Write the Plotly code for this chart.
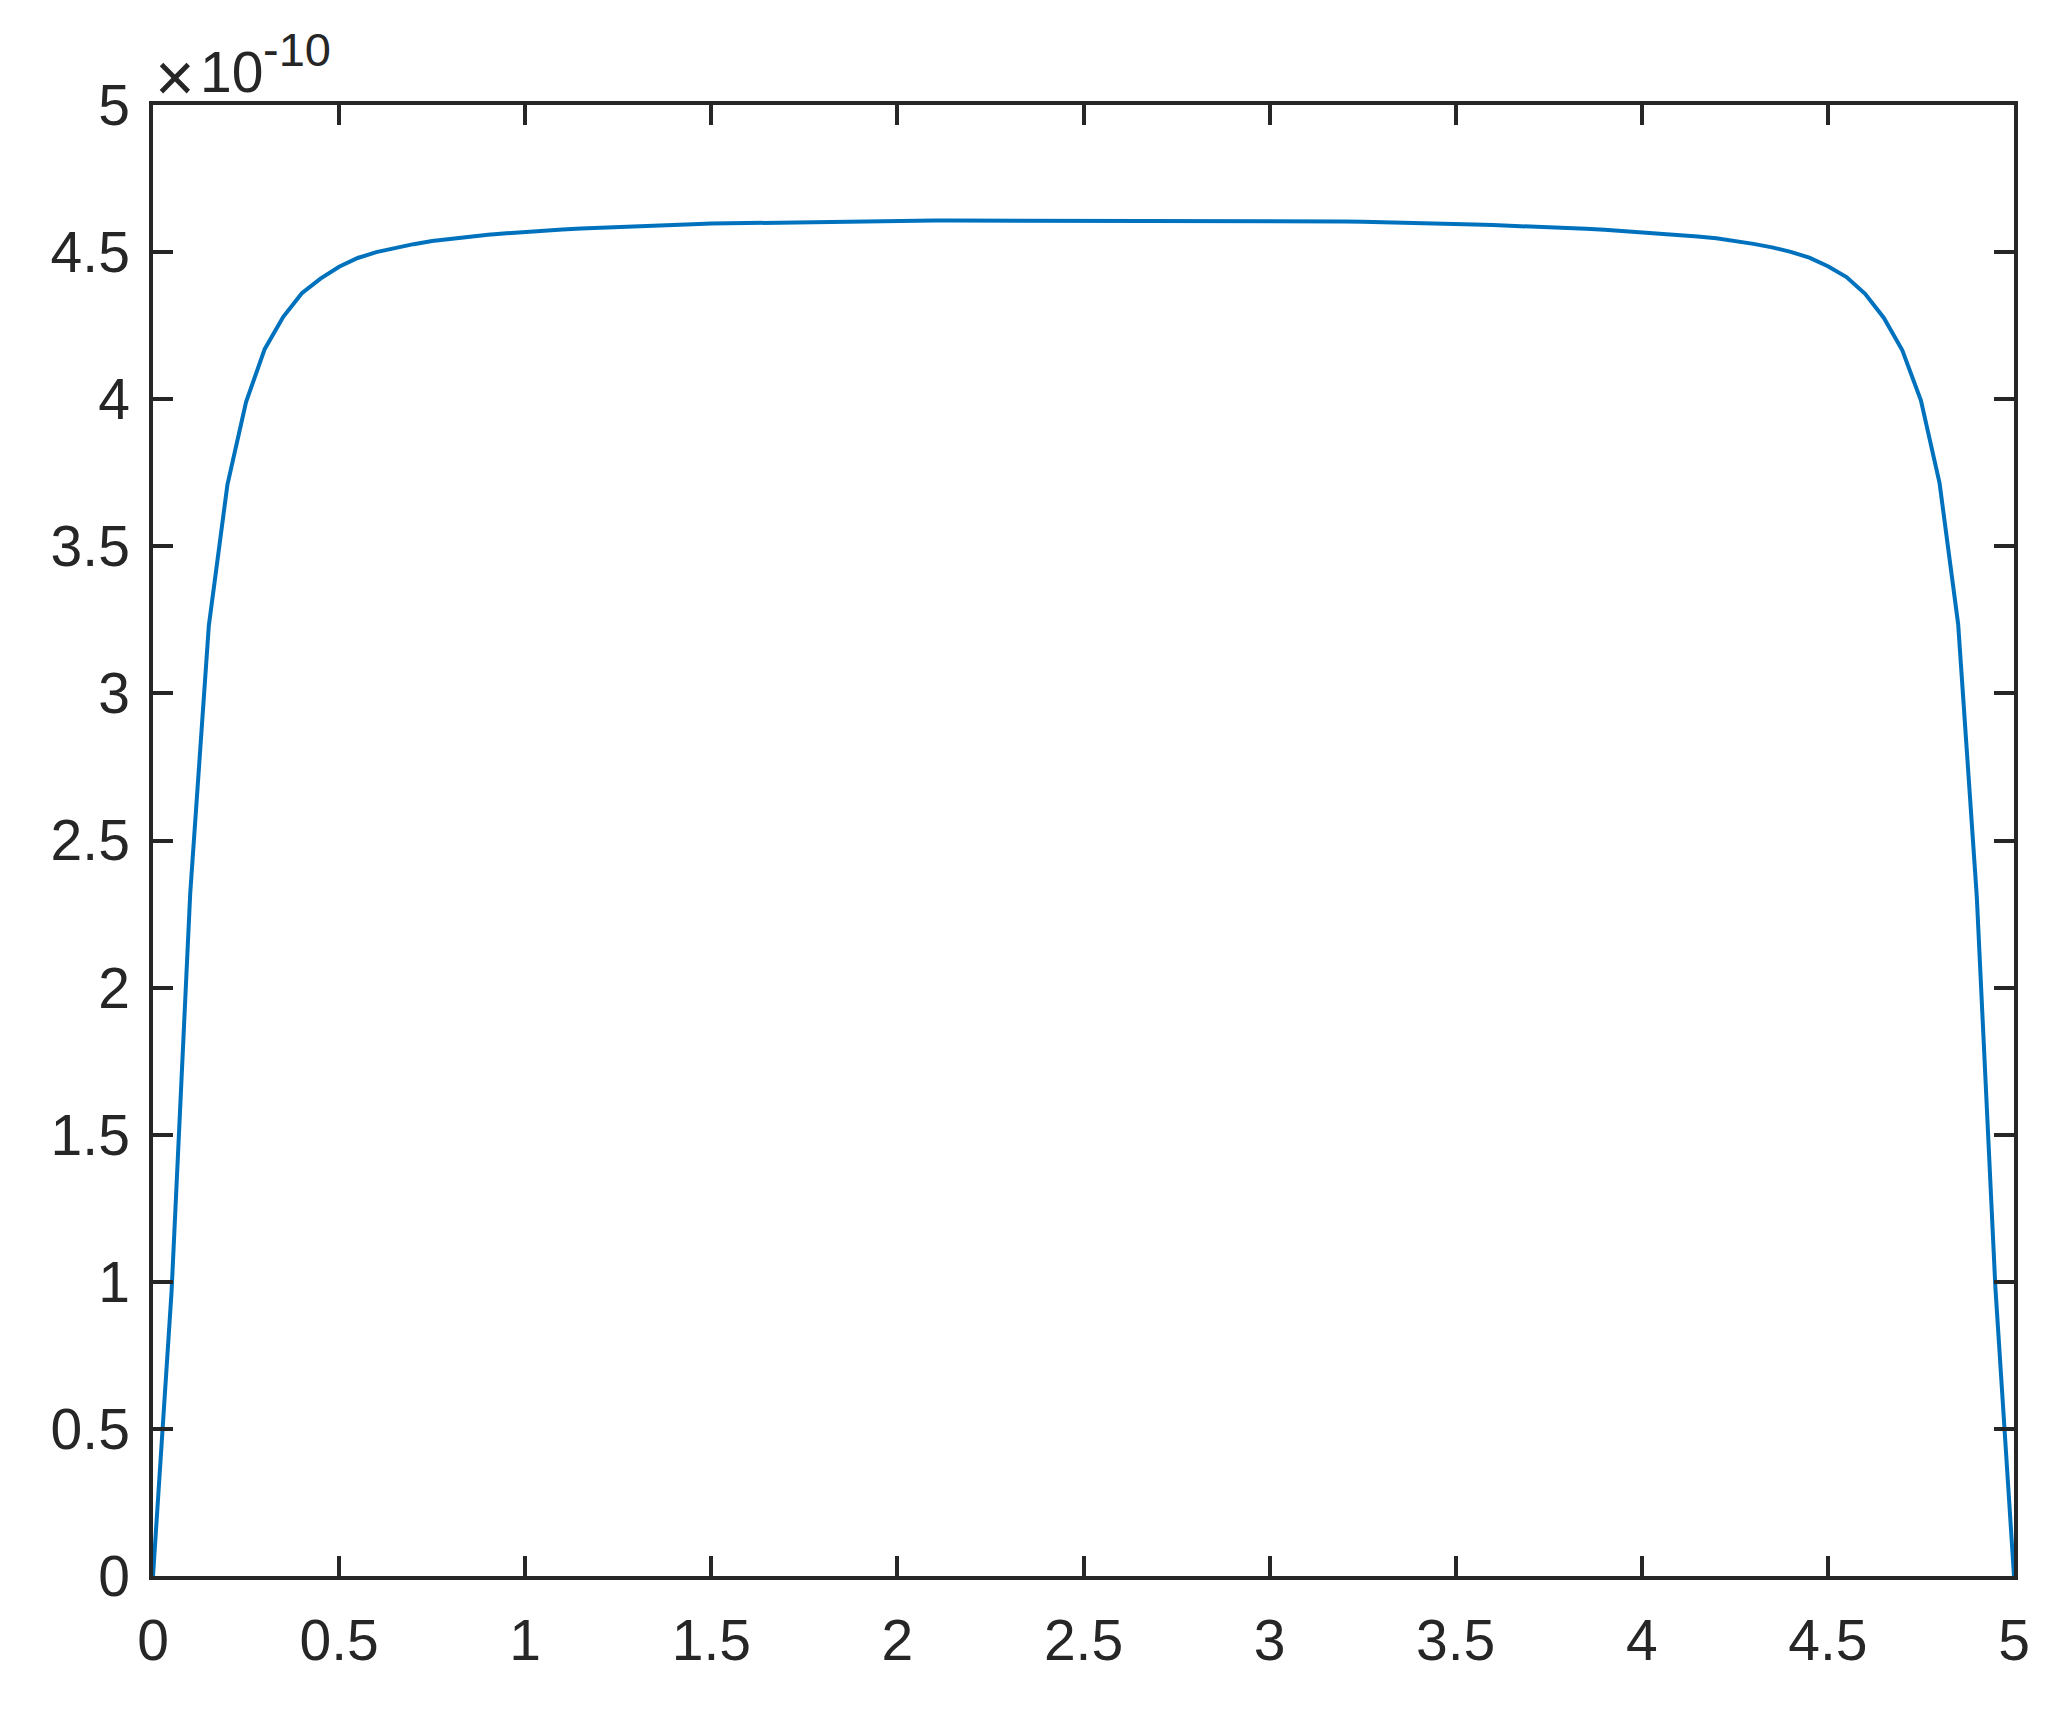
import plotly.graph_objects as go

# x grid (0 .. 5, step 0.05) and curve values in units of 1e-10
x_vals = [round(i * 0.05, 2) for i in range(101)]
y_vals = [
    0.0, 0.97, 2.32, 3.23, 3.71, 3.99, 4.17, 4.28, 4.36, 4.41,
    4.45, 4.48, 4.50, 4.515, 4.527, 4.538, 4.546, 4.553, 4.559, 4.564,
    4.569, 4.573, 4.577, 4.580, 4.583, 4.586, 4.589, 4.591, 4.593, 4.595,
    4.597, 4.598, 4.600, 4.601, 4.602, 4.603, 4.604, 4.605, 4.606, 4.606,
    4.607, 4.607, 4.607, 4.607, 4.607, 4.607, 4.607, 4.607, 4.607, 4.607,
    4.607, 4.607, 4.607, 4.607, 4.607, 4.607, 4.607, 4.607, 4.607, 4.607,
    4.607, 4.606, 4.606, 4.605, 4.604, 4.603, 4.602, 4.601, 4.600, 4.598,
    4.596, 4.594, 4.592, 4.590, 4.588, 4.585, 4.582, 4.579, 4.576, 4.572,
    4.568, 4.564, 4.559, 4.553, 4.547, 4.538, 4.528, 4.516, 4.501, 4.481,
    4.452, 4.415, 4.358, 4.277, 4.166, 3.995, 3.715, 3.235, 2.31, 0.98,
    0.0,
]

x_ticks = [0, 0.5, 1, 1.5, 2, 2.5, 3, 3.5, 4, 4.5, 5]
x_ticktext = ["0", "0.5", "1", "1.5", "2", "2.5", "3", "3.5", "4", "4.5", "5"]
y_ticks = [0, 0.5, 1, 1.5, 2, 2.5, 3, 3.5, 4, 4.5, 5]
y_ticktext = ["0", "0.5", "1", "1.5", "2", "2.5", "3", "3.5", "4", "4.5", "5"]

# page body has an 8px margin, so the figure is shifted by that
OFF = 8
W, H = 2068 - 2 * OFF, 1721 - 2 * OFF
L, T = 153 - OFF, 105 - OFF
R = (OFF + W) - 2014
B = (OFF + H) - 1576
pw, ph = W - L - R, H - T - B

ink = "#262626"
fam = "Liberation Sans, Arial, sans-serif"
fnt = dict(family=fam, size=57, color=ink)

fig = go.Figure()
fig.add_trace(go.Scatter(
    x=x_vals, y=y_vals, mode="lines",
    line=dict(color="#0072BD", width=4),
    showlegend=False, hoverinfo="skip",
))

axis_common = dict(
    showline=True, linecolor=ink, linewidth=3.5,
    mirror="ticks", ticks="inside", ticklen=20, tickwidth=3.5, tickcolor=ink,
    showgrid=False, zeroline=False, tickfont=fnt,
)

fig.update_layout(
    width=W, height=H,
    margin=dict(l=L, r=R, t=T, b=B),
    paper_bgcolor="white", plot_bgcolor="white",
    xaxis=dict(range=[0, 5], tickvals=x_ticks, ticktext=x_ticktext,
               ticklabelstandoff=12, **axis_common),
    yaxis=dict(range=[0, 5], tickvals=y_ticks, ticktext=y_ticktext,
               ticklabelstandoff=8, **axis_common),
)


def px_x(p):
    return (p - 153) / pw


def px_y(p):
    return 1 + (105 - p) / ph


# exponent label  "×10^-10"
for txt, cx, cy, size in [("×", 175, 77, 68), ("10", 231, 72, 57), ("-10", 297, 50, 47)]:
    fig.add_annotation(
        text=txt, xref="paper", yref="paper",
        x=px_x(cx), y=px_y(cy),
        xanchor="center", yanchor="middle", showarrow=False,
        font=dict(family=fam, size=size, color=ink),
    )

fig.write_html("out.html")
